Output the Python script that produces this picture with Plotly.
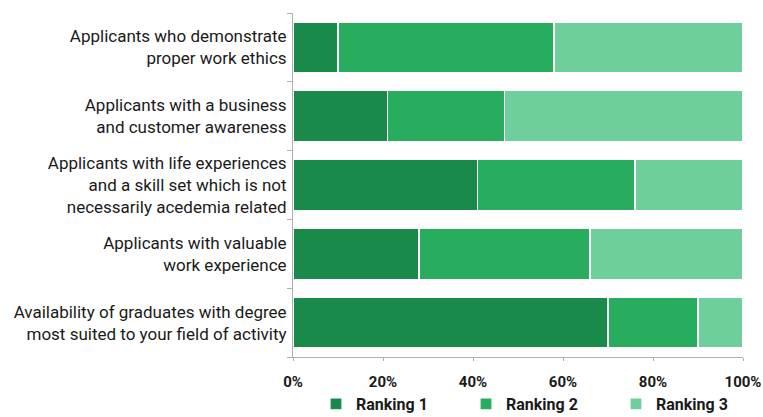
import plotly.graph_objects as go

categories = [
    "Applicants who demonstrate<br>proper work ethics",
    "Applicants with a business<br>and customer awareness",
    "Applicants with life experiences<br>and a skill set which is not<br>necessarily acedemia related",
    "Applicants with valuable<br>work experience",
    "Availability of graduates with degree<br>most suited to your field of activity",
]
ranking_1 = [10, 21, 41, 28, 70]
ranking_2 = [48, 26, 35, 38, 20]
ranking_3 = [42, 53, 24, 34, 10]

series_names = ["Ranking 1", "Ranking 2", "Ranking 3"]
series_colors = ["#1a8a4a", "#28ad5e", "#6fcf9c"]
x_ticks = [0, 20, 40, 60, 80, 100]
x_tick_text = ["0%", "20%", "40%", "60%", "80%", "100%"]

font_family = "Roboto, 'Open Sans', sans-serif"
text_color = "#1a1a1a"
axis_color = "#a9b0b3"

W, H = 763, 417
legend_keys = ["legend", "legend2", "legend3"]
legend_left_px = [316, 466, 616]

fig = go.Figure()
for name, values, color, key in zip(series_names, [ranking_1, ranking_2, ranking_3],
                                     series_colors, legend_keys):
    fig.add_trace(go.Bar(
        y=categories,
        x=values,
        name=name,
        orientation="h",
        legend=key,
        marker=dict(color=color, line=dict(color="white", width=1.2)),
        hoverinfo="x+name",
    ))

legend_style = dict(
    orientation="h",
    xref="container",
    yref="container",
    xanchor="left",
    yanchor="middle",
    y=1 - 404 / H,
    font=dict(size=16, family=font_family, weight="bold", color=text_color),
    itemwidth=30,
    bgcolor="rgba(0,0,0,0)",
)

fig.update_layout(
    width=W,
    height=H,
    barmode="stack",
    bargap=0.26,
    plot_bgcolor="white",
    paper_bgcolor="white",
    margin=dict(l=293, r=20, t=13, b=60, autoexpand=False),
    font=dict(family=font_family, color=text_color),
    xaxis=dict(
        range=[0, 100],
        tickvals=x_ticks,
        ticktext=x_tick_text,
        tickfont=dict(size=15, family=font_family, weight="bold", color=text_color),
        ticklabeloverflow="allow",
        ticklabelstandoff=8,
        showgrid=False,
        showline=True,
        linecolor=axis_color,
        linewidth=1,
        ticks="outside",
        ticklen=3,
        tickcolor=axis_color,
        zeroline=False,
        fixedrange=True,
    ),
    yaxis=dict(
        categoryorder="array",
        categoryarray=categories[::-1],
        tickfont=dict(size=17, family=font_family, color=text_color),
        ticklabelstandoff=2,
        showgrid=False,
        showline=True,
        linecolor=axis_color,
        linewidth=1,
        ticks="outside",
        tickson="boundaries",
        ticklen=5,
        tickcolor=axis_color,
        fixedrange=True,
    ),
    legend=dict(legend_style, x=legend_left_px[0] / W),
    legend2=dict(legend_style, x=legend_left_px[1] / W),
    legend3=dict(legend_style, x=legend_left_px[2] / W),
    showlegend=True,
)

fig.write_html("out.html")
